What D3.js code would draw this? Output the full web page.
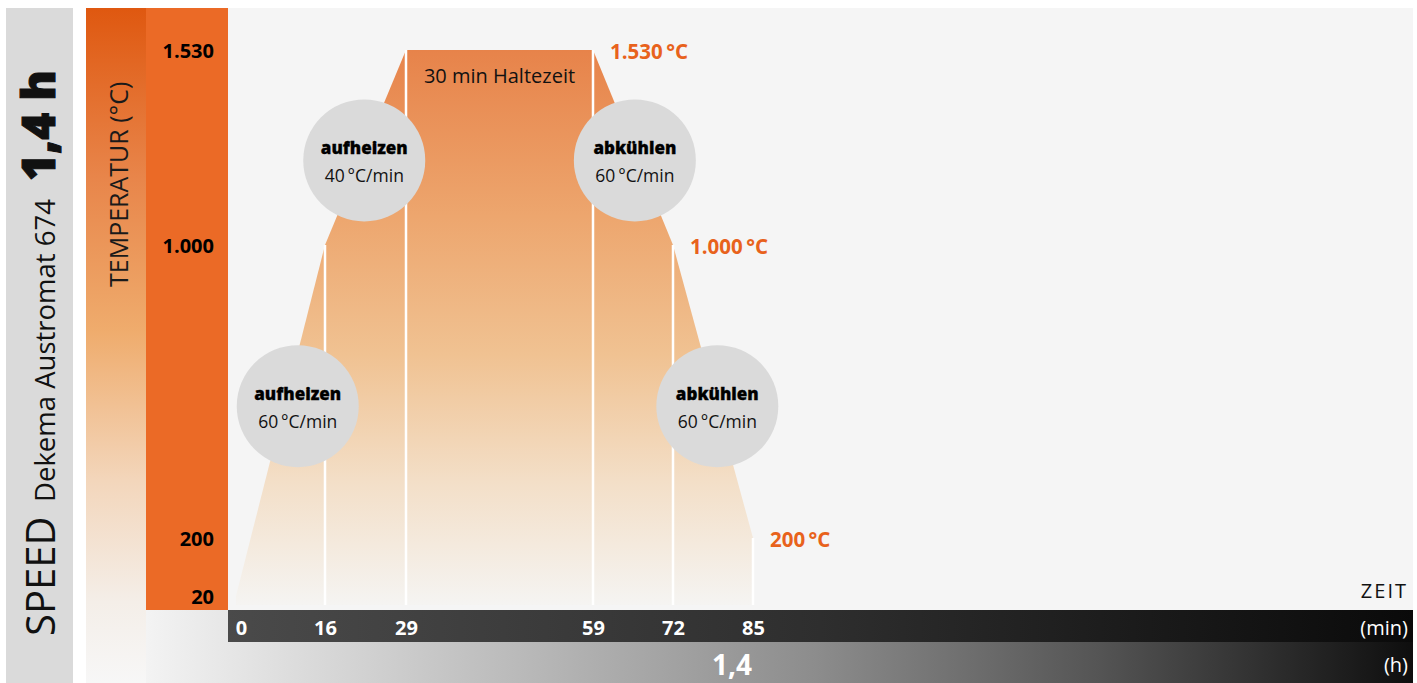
<!DOCTYPE html>
<html>
<head>
<meta charset="utf-8">
<script src="https://cdn.jsdelivr.net/npm/d3@7/dist/d3.min.js"></script>
<style>
body { margin: 0; background: #fff; }
svg text { font-family: "Open Sans", sans-serif; }
</style>
</head>
<body>
<svg id="chart" width="1417" height="683"></svg>
<script>
// firing profile: time (min) and temperature (°C)
var profileTime = [0, 16, 29, 59, 72, 85];
var profileTemp = [20, 1000, 1530, 1530, 1000, 200];

var tempTicks = [20, 200, 1000, 1530];
var timeTicks = [0, 16, 29, 59, 72, 85];
var hourLabel = "1,4";

// temperatures called out on the right of the curve
var calloutTime = [59, 72, 85];
var calloutTemp = [1530, 1000, 200];

// rate bubbles, anchored in data space (min, °C)
var rateTitle = ["aufheizen", "aufheizen", "abkühlen", "abkühlen"];
var rateValue = [60, 40, 60, 60];
var rateTime = [11.1, 22.3, 65.8, 79.2];
var rateTemp = [560, 1230, 1230, 560];

var holdText = "30 min Haltezeit";

var de = d3.formatLocale({ decimal: ",", thousands: ".", grouping: [3], currency: ["", " €"] });
var fmt = de.format(",d");

var svg = d3.select("#chart");
var defs = svg.append("defs");

function gradient(id, stops, vertical, y1, y2) {
    var g = defs.append("linearGradient").attr("id", id);
    if (vertical) {
        g.attr("x1", 0).attr("x2", 0).attr("y1", 0).attr("y2", 1);
    }
    if (y1 !== undefined) {
        g.attr("gradientUnits", "userSpaceOnUse")
            .attr("x1", 0).attr("x2", 0).attr("y1", y1).attr("y2", y2);
    }
    stops.forEach(function(s) {
        g.append("stop").attr("offset", s[0]).attr("stop-color", s[1]);
    });
}

function last(arr) { return arr[arr.length - 1]; }

var x = d3.scaleLinear().domain(timeTicks).range([236, 325, 406, 593, 673, 753]);
var y = d3.scaleLinear().domain(tempTicks).range([596, 538, 245, 50]);
var plotBottom = 605;

gradient("colGrad", [[0, "#df5810"], [0.25, "#e8854a"], [0.48, "#efac6d"], [0.7, "#f3d6bb"], [0.88, "#f4eee8"], [1, "#f7f7f7"]], true);
gradient("hourGrad", [[0, "#f3f3f3"], [0.53, "#8c8c8c"], [0.75, "#555555"], [1, "#0e0e0e"]], false);
gradient("minGrad", [[0, "#4a4a4a"], [0.5, "#2e2e2e"], [1, "#0a0a0a"]], false);
gradient("areaGrad", [[0, "#e7834a"], [0.3, "#eda66e"], [0.55, "#f0c292"], [0.78, "#f3dfc8"], [1, "#f5f4f2"]], true, y(1530), plotBottom);

// backgrounds
svg.append("rect").attr("x", 6).attr("y", 8).attr("width", 67).attr("height", 675).attr("fill", "#dadada");
svg.append("rect").attr("x", 86).attr("y", 8).attr("width", 60).attr("height", 675).attr("fill", "url(#colGrad)");
svg.append("rect").attr("x", 146).attr("y", 8).attr("width", 82).attr("height", 602).attr("fill", "#eb6a26");
svg.append("rect").attr("x", 228).attr("y", 8).attr("width", 1185).attr("height", 602).attr("fill", "#f5f5f5");
svg.append("rect").attr("x", 146).attr("y", 610).attr("width", 1267).attr("height", 73).attr("fill", "url(#hourGrad)");
svg.append("rect").attr("x", 228).attr("y", 610).attr("width", 1185).attr("height", 32).attr("fill", "url(#minGrad)");

// profile area
var pts = profileTime.map(function(t, i) { return [t, profileTemp[i]]; });
var area = d3.area()
    .x(function(d) { return x(d[0]); })
    .y0(plotBottom)
    .y1(function(d) { return y(d[1]); });
svg.append("path").datum(pts).attr("d", area).attr("fill", "url(#areaGrad)");

// white dividers at each step
svg.selectAll("line.step").data(pts.slice(1)).enter().append("line")
    .attr("class", "step")
    .attr("x1", function(d) { return x(d[0]); })
    .attr("x2", function(d) { return x(d[0]); })
    .attr("y1", plotBottom)
    .attr("y2", function(d) { return y(d[1]); })
    .attr("stroke", "#fff").attr("stroke-width", 2.5);

svg.append("text")
    .attr("x", (x(29) + x(59)) / 2).attr("y", 75)
    .attr("text-anchor", "middle").attr("dominant-baseline", "central")
    .attr("font-size", 20).attr("fill", "#111")
    .text(holdText);

// rate bubbles
var bubbles = svg.selectAll("g.rate").data(rateTitle).enter().append("g")
    .attr("class", "rate")
    .attr("transform", function(d, i) { return "translate(" + x(rateTime[i]) + "," + y(rateTemp[i]) + ")"; });
bubbles.append("circle").attr("r", 61).attr("fill", "#dadada");
bubbles.append("text")
    .attr("y", -13).attr("text-anchor", "middle").attr("dominant-baseline", "central")
    .attr("font-size", 17).attr("font-weight", 800).attr("fill", "#000")
    .attr("stroke", "#000").attr("stroke-width", 0.3)
    .text(function(d) { return d; });
bubbles.append("text")
    .attr("y", 15).attr("text-anchor", "middle").attr("dominant-baseline", "central")
    .attr("font-size", 17.5).attr("fill", "#111")
    .text(function(d, i) { return rateValue[i] + "\u2009°C/min"; });

// orange callouts
svg.selectAll("text.callout").data(calloutTemp).enter().append("text")
    .attr("class", "callout")
    .attr("x", function(d, i) { return x(calloutTime[i]) + 17; })
    .attr("y", function(d) { return y(d) + 1; })
    .attr("dominant-baseline", "central")
    .attr("font-size", 20.5).attr("font-weight", 700).attr("fill", "#e8621c")
    .text(function(d) { return fmt(d) + "\u2009°C"; });

// temperature axis
var yAxis = svg.append("g")
    .attr("transform", "translate(214,0)")
    .call(d3.axisLeft(y).tickValues(tempTicks).tickFormat(fmt).tickSize(0).tickPadding(0));
yAxis.select(".domain").remove();
yAxis.selectAll("text")
    .attr("dy", null).attr("dominant-baseline", "central")
    .attr("font-size", 20).attr("font-weight", 700).attr("fill", "#000")
    .style("font-family", "'Open Sans', sans-serif");

// time axis
var xAxis = svg.append("g")
    .attr("transform", "translate(0,627)")
    .call(d3.axisBottom(x).tickValues(timeTicks).tickSize(0).tickPadding(0));
xAxis.select(".domain").remove();
xAxis.selectAll("text")
    .attr("y", 0).attr("dy", null).attr("dominant-baseline", "central")
    .attr("font-size", 20).attr("font-weight", 700).attr("fill", "#fff")
    .style("font-family", "'Open Sans', sans-serif");
xAxis.selectAll(".tick").filter(function(d) { return d === 0; })
    .select("text").attr("dx", 5);

svg.append("text")
    .attr("x", x(last(profileTime)) - 1).attr("y", 664)
    .attr("text-anchor", "end").attr("dominant-baseline", "central")
    .attr("font-size", 28).attr("font-weight", 700).attr("fill", "#fff")
    .text(hourLabel);

svg.append("text").attr("x", 1408).attr("y", 590)
    .attr("text-anchor", "end").attr("dominant-baseline", "central")
    .attr("font-size", 20).attr("letter-spacing", 2).attr("fill", "#111")
    .text("ZEIT");
svg.append("text").attr("x", 1408).attr("y", 627)
    .attr("text-anchor", "end").attr("dominant-baseline", "central")
    .attr("font-size", 20).attr("fill", "#fff")
    .text("(min)");
svg.append("text").attr("x", 1408).attr("y", 664)
    .attr("text-anchor", "end").attr("dominant-baseline", "central")
    .attr("font-size", 20).attr("fill", "#fff")
    .text("(h)");

// axis title in the gradient column
svg.append("text")
    .attr("transform", "translate(128,287) rotate(-90)")
    .attr("font-size", 25).attr("fill", "#1a1a1a")
    .text("TEMPERATUR (°C)");

// left side panel
var side = svg.append("g").attr("transform", "translate(55,636) rotate(-90)");
side.append("text").attr("x", 0)
    .attr("font-size", 40).attr("font-weight", 400).attr("fill", "#111")
    .text("SPEED");
side.append("text").attr("x", 134)
    .attr("font-size", 27.5).attr("fill", "#111")
    .text("Dekema Austromat 674");
side.append("text").attr("x", 566).attr("text-anchor", "end")
    .attr("font-size", 46).attr("font-weight", 800).attr("fill", "#111")
    .attr("stroke", "#111").attr("stroke-width", 1)
    .text("1,4 h");
</script>
</body>
</html>
